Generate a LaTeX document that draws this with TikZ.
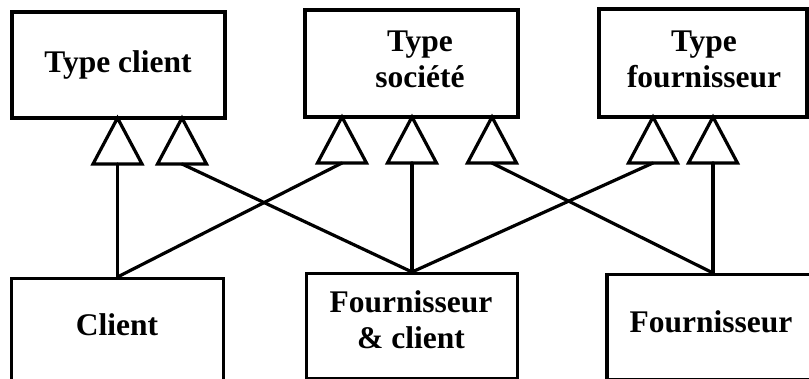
\documentclass[tikz,border=0pt]{standalone}
\usepackage{fontspec}
\setmainfont{Liberation Serif}
\newcommand\heritage[3]{% nom, x, y de la pointe
  \draw[triangle] (#2,#3) -- ++(-24.5,46) -- ++(49,0) -- cycle;
  \coordinate (#1) at (#2,#3+46);
}
\begin{document}
\begin{tikzpicture}[x=1pt,y=-1pt,line width=3.2pt]
		\tikzstyle{boite}=[draw,rectangle,inner sep=0pt]
		\tikzstyle{texte}=[align=center,inner sep=0pt,
				      font=\bfseries\fontsize{31.5}{36}\selectfont]
		\tikzstyle{lien}=[line cap=round]
		\tikzstyle{triangle}=[line join=miter]

\useasboundingbox (0,0) rectangle (809,378);
\clip (0,0) rectangle (809,378);

% types
\node[boite,minimum width=213pt,minimum height=106pt] at (118.5,65) (tclient) {};
\node[boite,minimum width=213pt,minimum height=107pt] at (411.5,63.5) (tsociete) {};
\node[boite,minimum width=208pt,minimum height=108pt] at (703,63) (tfourn) {};

\node[texte,anchor=base] at (118,72) (ltclient) {Type client};
\node[texte] at (420,59.5) (ltsociete) {Type\\société};
\node[texte] at (704,59.5) (ltfourn) {Type\\fournisseur};

% entites
\node[boite,minimum width=212pt,minimum height=104pt,anchor=north] at (117.5,277) (client) {};
\node[boite,minimum width=211pt,minimum height=105pt,anchor=north] at (412,272) (fc) {};
\node[boite,minimum width=212pt,minimum height=105pt,anchor=north] at (713,273) (fourn) {};

\node[texte,anchor=base] at (117,335) (lclient) {Client};
\node[texte] at (411,319.75) (lfc) {Fournisseur\\\& client};
\node[texte,anchor=base] at (711,332) (lfourn) {Fournisseur};

% triangles d'heritage
\heritage{h1}{117.5}{118}
\heritage{h2}{182}{118}
\heritage{h3}{342}{117}
\heritage{h4}{412}{117}
\heritage{h5}{492}{117}
\heritage{h6}{653}{117}
\heritage{h7}{713}{117}

\draw[lien] (client.north) -- (h1);
\draw[lien] (client.north) -- (h3);
\draw[lien] (fc.north) -- (h2);
\draw[lien] (fc.north) -- (h4);
\draw[lien] (fc.north) -- (h6);
\draw[lien] (fourn.north) -- (h5);
\draw[lien] (fourn.north) -- (h7);

\end{tikzpicture}
\end{document}
